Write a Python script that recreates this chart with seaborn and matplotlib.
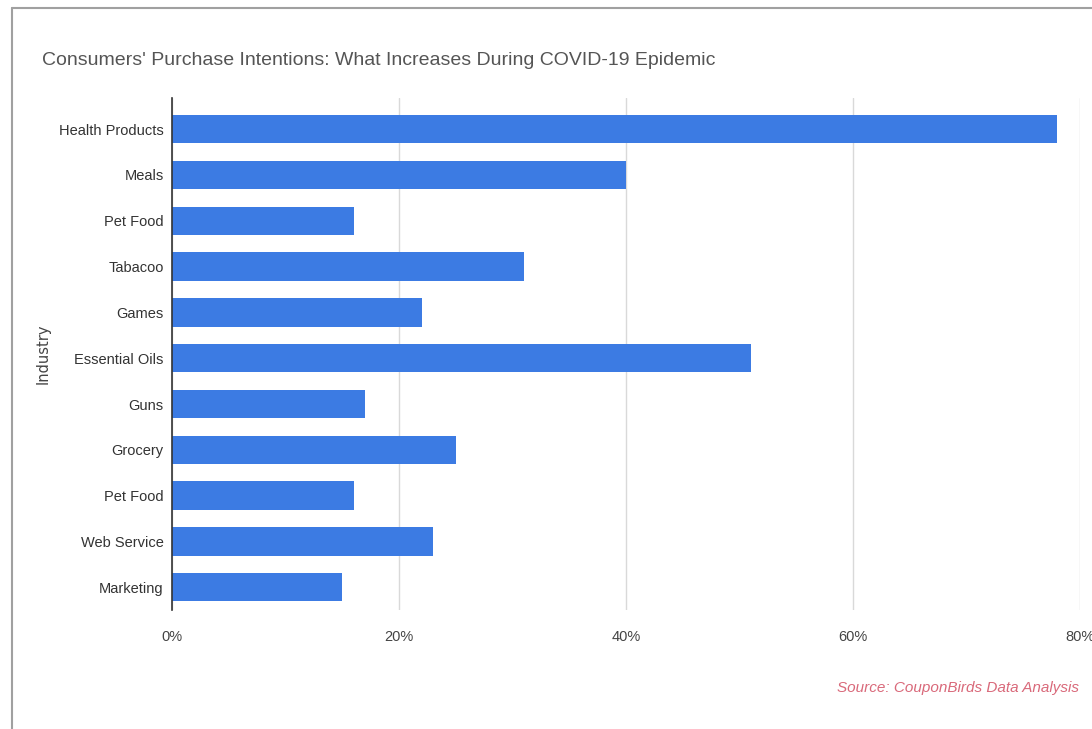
import matplotlib
matplotlib.use("Agg")
import matplotlib.pyplot as plt
import seaborn as sns
import pandas as pd
from matplotlib.lines import Line2D
from matplotlib.ticker import FuncFormatter

categories = ["Health Products", "Meals", "Pet Food", "Tabacoo", "Games",
              "Essential Oils", "Guns", "Grocery", "Pet Food", "Web Service", "Marketing"]
values = [78, 40, 16, 31, 22, 51, 17, 25, 16, 23, 15]
x_ticks = [0, 20, 40, 60, 80]

sns.set_theme(style="white")
FONT = ["Liberation Sans", "DejaVu Sans"]
plt.rcParams["font.family"] = FONT

df = pd.DataFrame({"key": [f"{i}" for i in range(len(categories))],
                   "label": categories, "value": values})

fig = plt.figure(figsize=(10.92, 7.29), dpi=100)
ax = fig.add_axes([0.1575, 0.163, 0.8315, 0.7026])

sns.barplot(data=df, y="key", x="value", order=list(df["key"]), orient="h",
            color="#3c7be3", saturation=1, width=0.62, ax=ax, zorder=3)
for p in ax.patches:
    p.set_edgecolor("none")

ax.set_yticks(range(len(categories)))
ax.set_yticklabels(categories, fontsize=10.5, color="#333333")
ax.set_ylim(10.5, -0.68)
ax.set_xlim(0, 80)
ax.set_xticks(x_ticks)
ax.xaxis.set_major_formatter(FuncFormatter(lambda v, p: f"{int(v)}%"))
ax.tick_params(axis="x", labelsize=10.5, colors="#444444", length=0, pad=14)
ax.tick_params(axis="y", length=0, pad=6)
ax.grid(axis="x", color="#d9d9d9", linewidth=1, zorder=0)
ax.set_axisbelow(True)
for s in ["top", "right", "bottom"]:
    ax.spines[s].set_visible(False)
ax.spines["left"].set_color("#333333")
ax.spines["left"].set_linewidth(1.2)
ax.spines["left"].set_zorder(5)

ax.set_xlabel("")
ax.set_ylabel("Industry", fontsize=10.5, color="#444444", family="DejaVu Sans", labelpad=0)
ax.yaxis.set_label_coords(-0.134, 0.5)

fig.text(0.0385, 0.917, "Consumers' Purchase Intentions: What Increases During COVID-19 Epidemic",
         fontsize=14, color="#555555", ha="left", va="center")
fig.text(0.988, 0.056, "Source: CouponBirds Data Analysis", fontsize=11,
         color="#d9697a", style="italic", ha="right", va="center")

# frame lines
fig.add_artist(Line2D([0.011, 0.011], [0.0, 0.989], transform=fig.transFigure,
                      color="#a0a0a0", linewidth=1.5))
fig.add_artist(Line2D([0.011, 1.0], [0.989, 0.989], transform=fig.transFigure,
                      color="#a0a0a0", linewidth=1.5))

fig.savefig("out.png", dpi=100)
